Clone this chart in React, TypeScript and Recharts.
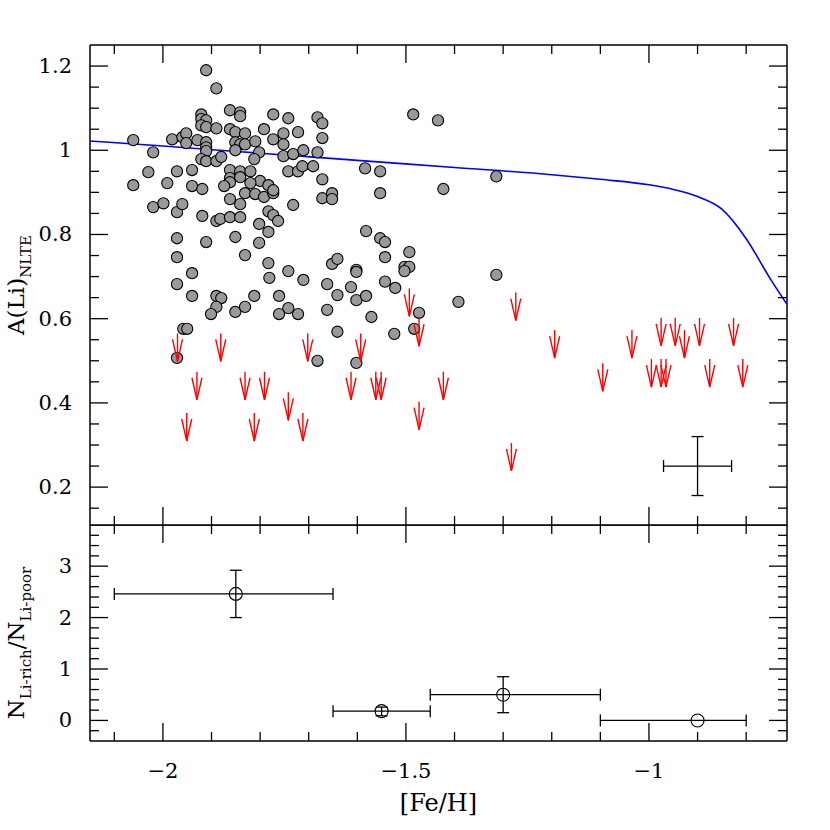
import React from 'react';
import { ComposedChart, Scatter, XAxis, YAxis, ErrorBar } from 'recharts';

const FONT = '"DejaVu Serif", serif';

// [Fe/H], A(Li) of the Li detections (grey dots)
const detections: [number, number][] = [
  [-2.061, 1.024], [-2.061, 0.917], [-2.030, 0.948], [-2.020, 0.995], [-2.020, 0.865], [-1.999, 0.874],
  [-1.991, 0.922], [-1.981, 1.026], [-1.971, 0.950], [-1.971, 0.853], [-1.960, 1.031], [-1.960, 0.872],
  [-1.952, 1.040], [-1.952, 1.017], [-1.940, 0.953], [-1.940, 0.915], [-1.929, 1.024], [-1.921, 1.085],
  [-1.921, 1.074], [-1.911, 1.071], [-1.921, 1.059], [-1.911, 1.055], [-1.911, 1.190], [-1.890, 1.147],
  [-1.890, 1.052], [-1.911, 1.019], [-1.911, 1.007], [-1.911, 0.998], [-1.921, 0.979], [-1.911, 0.974],
  [-1.890, 0.974], [-1.880, 0.984], [-1.862, 1.095], [-1.841, 1.090], [-1.841, 1.081], [-1.862, 1.050],
  [-1.851, 1.043], [-1.831, 1.040], [-1.851, 1.019], [-1.841, 1.014], [-1.831, 1.014], [-1.810, 1.021],
  [-1.851, 1.000], [-1.802, 0.995], [-1.812, 0.979], [-1.792, 1.050], [-1.773, 1.085], [-1.862, 0.953],
  [-1.841, 0.950], [-1.820, 0.950], [-1.862, 0.934], [-1.841, 0.936], [-1.862, 0.924], [-1.800, 0.927],
  [-1.919, 0.908], [-1.874, 0.915], [-1.820, 0.922], [-1.783, 0.917], [-1.831, 0.898], [-1.810, 0.896],
  [-1.792, 0.889], [-1.862, 0.884], [-1.841, 0.872], [-1.773, 0.898], [-1.773, 0.905], [-1.919, 0.844],
  [-1.890, 0.832], [-1.882, 0.837], [-1.862, 0.841], [-1.841, 0.841], [-1.802, 0.825], [-1.783, 0.855],
  [-1.773, 0.846], [-1.763, 0.832], [-1.783, 0.806], [-1.971, 0.791], [-1.911, 0.782], [-1.851, 0.794],
  [-1.802, 0.780], [-1.971, 0.746], [-1.831, 0.751], [-1.940, 0.708], [-1.783, 0.732], [-1.971, 0.682],
  [-1.781, 0.697], [-1.940, 0.654], [-1.890, 0.654], [-1.880, 0.649], [-1.890, 0.628], [-1.901, 0.611],
  [-1.851, 0.616], [-1.831, 0.628], [-1.812, 0.654], [-1.958, 0.576], [-1.950, 0.576], [-1.971, 0.507],
  [-1.742, 1.076], [-1.682, 1.078], [-1.672, 1.064], [-1.752, 1.040], [-1.722, 1.043], [-1.773, 1.026],
  [-1.752, 1.014], [-1.672, 1.029], [-1.752, 0.986], [-1.732, 0.991], [-1.711, 1.000], [-1.682, 0.995],
  [-1.742, 0.950], [-1.722, 0.950], [-1.713, 0.962], [-1.691, 0.962], [-1.672, 0.931], [-1.732, 0.870],
  [-1.672, 0.886], [-1.652, 0.898], [-1.652, 0.884], [-1.584, 0.957], [-1.553, 0.950], [-1.553, 0.898],
  [-1.423, 0.908], [-1.485, 1.085], [-1.434, 1.071], [-1.314, 0.938], [-1.582, 0.808], [-1.553, 0.791],
  [-1.543, 0.782], [-1.543, 0.746], [-1.493, 0.758], [-1.652, 0.730], [-1.641, 0.742], [-1.602, 0.716],
  [-1.602, 0.711], [-1.503, 0.723], [-1.493, 0.723], [-1.503, 0.713], [-1.742, 0.713], [-1.711, 0.692],
  [-1.662, 0.682], [-1.613, 0.675], [-1.543, 0.688], [-1.522, 0.673], [-1.761, 0.654], [-1.641, 0.656],
  [-1.602, 0.644], [-1.582, 0.654], [-1.742, 0.625], [-1.761, 0.611], [-1.722, 0.611], [-1.662, 0.621],
  [-1.571, 0.604], [-1.473, 0.614], [-1.483, 0.576], [-1.641, 0.569], [-1.524, 0.564], [-1.682, 0.500],
  [-1.602, 0.495], [-1.314, 0.704], [-1.392, 0.640],
];

// upper limits (red arrows), value = top of arrow
const upperLimits: [number, number][] = [
  [-1.970, 0.565], [-1.881, 0.565], [-1.930, 0.474], [-1.831, 0.474], [-1.791, 0.474], [-1.742, 0.425],
  [-1.951, 0.376], [-1.812, 0.376], [-1.712, 0.376], [-1.702, 0.565], [-1.593, 0.565], [-1.613, 0.474],
  [-1.562, 0.474], [-1.551, 0.474], [-1.493, 0.672], [-1.473, 0.601], [-1.473, 0.403], [-1.423, 0.474],
  [-1.274, 0.662], [-1.194, 0.573], [-1.035, 0.573], [-0.975, 0.602], [-0.946, 0.602], [-0.927, 0.573],
  [-0.896, 0.602], [-0.826, 0.602], [-1.095, 0.494], [-0.995, 0.504], [-0.975, 0.504], [-0.965, 0.504],
  [-0.875, 0.504], [-0.807, 0.504], [-1.283, 0.305],
];

// blue model curve
const curve: [number, number][] = [
  [-2.15, 1.022], [-2.0, 1.010], [-1.8, 0.993], [-1.6, 0.976], [-1.4, 0.959], [-1.2, 0.942],
  [-1.1, 0.931], [-1.0, 0.918], [-0.95, 0.907], [-0.9, 0.890], [-0.85, 0.860], [-0.8, 0.790],
  [-0.75, 0.694], [-0.716, 0.634],
];

// typical error cross
const typicalError = [{ fe: -0.9, li: 0.25, ex: 0.07, ey: 0.07 }];

// lower panel: ratio per [Fe/H] bin
const binCentre = [-1.85, -1.55, -1.30, -0.90];
const binRatio = [2.46, 0.18, 0.50, 0.0];
const binXErr: [number, number][] = [[0.25, 0.20], [0.10, 0.10], [0.15, 0.20], [0.20, 0.10]];
const binYErr: ([number, number] | number)[] = [[0.46, 0.46], [0.09, 0.08], [0.35, 0.35], 0];

const xTicks = [-2.1, -2.0, -1.9, -1.8, -1.7, -1.6, -1.5, -1.4, -1.3, -1.2, -1.1, -1.0, -0.9, -0.8];
const liTicks = [0.15, 0.2, 0.25, 0.3, 0.35, 0.4, 0.45, 0.5, 0.55, 0.6, 0.65, 0.7, 0.75, 0.8, 0.85, 0.9,
  0.95, 1.0, 1.05, 1.1, 1.15, 1.2];
const ratioTicks = [-0.2, 0, 0.2, 0.4, 0.6, 0.8, 1, 1.2, 1.4, 1.6, 1.8, 2, 2.2, 2.4, 2.6, 2.8, 3, 3.2, 3.4, 3.6];

const X_DOMAIN: [number, number] = [-2.15, -0.716];
const LI_DOMAIN: [number, number] = [0.11, 1.25];
const RATIO_DOMAIN: [number, number] = [-0.4, 3.8];

const detData = detections.map(([fe, li]) => ({ fe, li }));
const limData = upperLimits.map(([fe, li]) => ({ fe, li }));
const curveData = curve.map(([fe, li]) => ({ fe, li }));
const ratioData = binCentre.map((fe, i) => ({ fe, r: binRatio[i], ex: binXErr[i], ey: binYErr[i] }));

const near = (v: number, step: number) => Math.abs(v / step - Math.round(v / step)) < 1e-6;
const xMajor = (v: number) => near(v, 0.5);
const liMajor = (v: number) => near(v, 0.2);
const ratioMajor = (v: number) => near(v, 1);
const fmt = (v: number) => String(Math.round(v * 100) / 100).replace('-', '\u2212');

const AxisTick = (props: any) => {
  const { x, y, payload, side, isMajor, showLabel } = props;
  const v = payload.value;
  const major = isMajor(v);
  const len = major ? 18 : 9;
  let x2 = x;
  let y2 = y;
  if (side === 'bottom') y2 = y - len;
  if (side === 'top') y2 = y + len;
  if (side === 'left') x2 = x + len;
  if (side === 'right') x2 = x - len;
  return (
    <g>
      <line x1={x} y1={y} x2={x2} y2={y2} stroke="#000" strokeWidth={1.3} />
      {showLabel && major && side === 'bottom' && (
        <text x={x} y={y + 37} textAnchor="middle" fontFamily={FONT} fontSize={21} fill="#000">{fmt(v)}</text>
      )}
      {showLabel && major && side === 'left' && (
        <text x={x - 18} y={y + 7} textAnchor="end" fontFamily={FONT} fontSize={21} fill="#000">{fmt(v)}</text>
      )}
    </g>
  );
};

const axisLine = { stroke: '#000', strokeWidth: 1.5 };

const Dot = (p: any) => <circle cx={p.cx} cy={p.cy} r={5.6} fill="#999999" stroke="#000" strokeWidth={1.1} />;
const OpenDot = (p: any) => <circle cx={p.cx} cy={p.cy} r={6.5} fill="none" stroke="#000" strokeWidth={1.1} />;
const Nothing = () => <g />;
const Arrow = (p: any) => {
  const { cx, cy } = p;
  return (
    <g stroke="#ff0000" strokeWidth={1.4} fill="none">
      <line x1={cx} y1={cy} x2={cx} y2={cy + 28} />
      <polyline points={`${cx - 5},${cy + 6} ${cx},${cy + 28} ${cx + 5},${cy + 6}`} />
    </g>
  );
};

const LiTitle = (p: any) => {
  const vb = p.viewBox;
  const cx = vb.x + vb.width - 66;
  const cy = vb.y + vb.height / 2;
  return (
    <text transform={`translate(${cx},${cy}) rotate(-90)`} textAnchor="middle" fontFamily={FONT} fontSize={23} fill="#000">
      A(Li)<tspan fontSize={15} dy={7}>NLTE</tspan>
    </text>
  );
};

const RatioTitle = (p: any) => {
  const vb = p.viewBox;
  const cx = vb.x + vb.width - 66;
  const cy = vb.y + vb.height / 2 + 10;
  return (
    <text transform={`translate(${cx},${cy}) rotate(-90)`} textAnchor="middle" fontFamily={FONT} fontSize={23} fill="#000">
      N<tspan fontSize={15} dy={7}>Li-rich</tspan><tspan dy={-7}>/N</tspan><tspan fontSize={15} dy={7}>Li-poor</tspan>
    </text>
  );
};

const FeTitle = (p: any) => {
  const vb = p.viewBox;
  return (
    <text x={vb.x + vb.width / 2} y={vb.y + 70} textAnchor="middle" fontFamily={FONT} fontSize={24} fill="#000">
      [Fe/H]
    </text>
  );
};

const axisCommon = { allowDataOverflow: true, interval: 0 as const, tickSize: 0, tickMargin: 0, tickLine: false, axisLine };

const App = () => {
  return (
    <div style={{ position: 'absolute', left: 0, top: 0, width: 830, height: 830, background: '#fff' }}>
      <div style={{ position: 'absolute', left: 0, top: 0 }}>
        <ComposedChart width={830} height={526} margin={{ top: 44, right: 42, bottom: 0, left: 89 }}>
          <XAxis xAxisId="b" type="number" dataKey="fe" domain={X_DOMAIN} ticks={xTicks} height={1} {...axisCommon}
            tick={<AxisTick side="bottom" isMajor={xMajor} />} />
          <XAxis xAxisId="t" orientation="top" type="number" dataKey="fe" domain={X_DOMAIN} ticks={xTicks} height={1}
            {...axisCommon} tick={<AxisTick side="top" isMajor={xMajor} />} />
          <YAxis yAxisId="l" type="number" dataKey="li" domain={LI_DOMAIN} ticks={liTicks} width={1} {...axisCommon}
            tick={<AxisTick side="left" isMajor={liMajor} showLabel />} label={<LiTitle />} />
          <YAxis yAxisId="r" orientation="right" type="number" dataKey="li" domain={LI_DOMAIN} ticks={liTicks} width={1}
            {...axisCommon} tick={<AxisTick side="right" isMajor={liMajor} />} />
          <Scatter xAxisId="b" yAxisId="l" data={curveData} line={{ stroke: '#0000ff', strokeWidth: 1.6 }}
            lineJointType="monotoneX" shape={<Nothing />} isAnimationActive={false} />
          <Scatter xAxisId="b" yAxisId="l" data={detData} shape={<Dot />} isAnimationActive={false} />
          <Scatter xAxisId="b" yAxisId="l" data={limData} shape={<Arrow />} isAnimationActive={false} />
          <Scatter xAxisId="b" yAxisId="l" data={typicalError} shape={<Nothing />} isAnimationActive={false}>
            <ErrorBar dataKey="ex" direction="x" width={6} stroke="#000" strokeWidth={1.3} />
            <ErrorBar dataKey="ey" direction="y" width={6} stroke="#000" strokeWidth={1.3} />
          </Scatter>
        </ComposedChart>
      </div>
      <div style={{ position: 'absolute', left: 0, top: 525 }}>
        <ComposedChart width={830} height={305} margin={{ top: -1, right: 42, bottom: 88, left: 89 }}>
          <XAxis xAxisId="b" type="number" dataKey="fe" domain={X_DOMAIN} ticks={xTicks} height={1} {...axisCommon}
            tick={<AxisTick side="bottom" isMajor={xMajor} showLabel />} label={<FeTitle />} />
          <XAxis xAxisId="t" orientation="top" type="number" dataKey="fe" domain={X_DOMAIN} ticks={xTicks} height={1}
            {...axisCommon} tick={<AxisTick side="top" isMajor={xMajor} />} />
          <YAxis yAxisId="l" type="number" dataKey="r" domain={RATIO_DOMAIN} ticks={ratioTicks} width={1} {...axisCommon}
            tick={<AxisTick side="left" isMajor={ratioMajor} showLabel />} label={<RatioTitle />} />
          <YAxis yAxisId="r" orientation="right" type="number" dataKey="r" domain={RATIO_DOMAIN} ticks={ratioTicks}
            width={1} {...axisCommon} tick={<AxisTick side="right" isMajor={ratioMajor} />} />
          <Scatter xAxisId="b" yAxisId="l" data={ratioData} shape={<OpenDot />} isAnimationActive={false}>
            <ErrorBar dataKey="ex" direction="x" width={6} stroke="#000" strokeWidth={1.3} />
            <ErrorBar dataKey="ey" direction="y" width={6} stroke="#000" strokeWidth={1.3} />
          </Scatter>
        </ComposedChart>
      </div>
    </div>
  );
};

export default App;
